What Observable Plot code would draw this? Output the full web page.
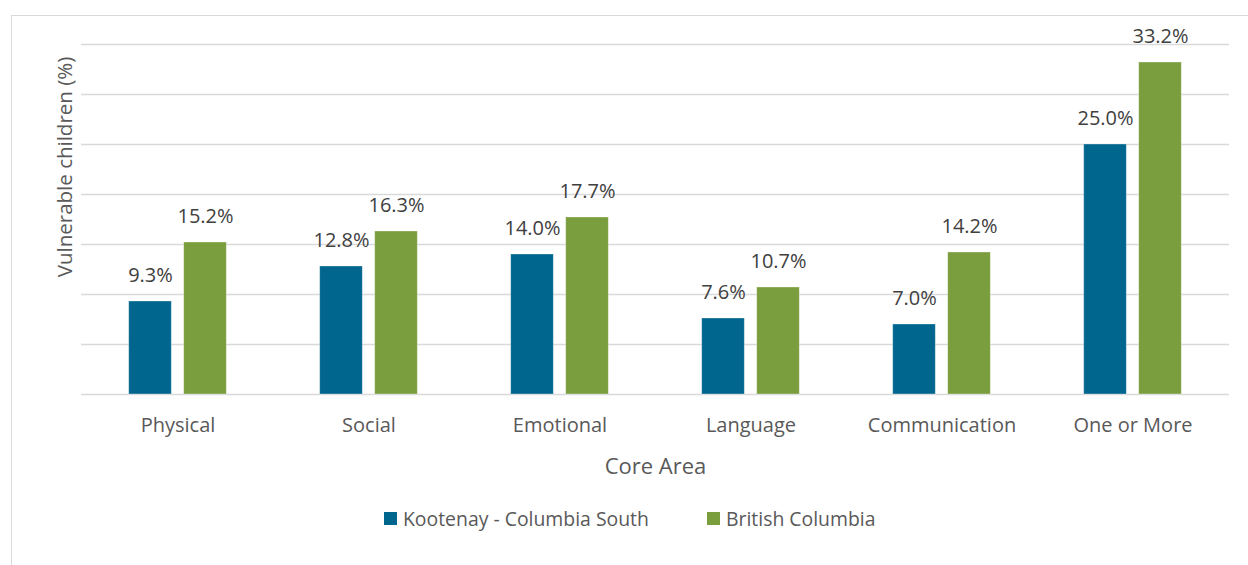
<!DOCTYPE html>
<html><head><meta charset="utf-8">
<script src="https://cdn.jsdelivr.net/npm/d3@7"></script>
<script src="https://cdn.jsdelivr.net/npm/@observablehq/plot@0.6"></script>
<style>
html,body{margin:0;padding:0;background:#fff;}
body{font-family:"Open Sans",sans-serif;}
#wrap{position:relative;width:1248px;height:565px;overflow:hidden;}
#frame{position:absolute;left:11px;top:15px;width:1300px;height:600px;border:1px solid #d9d9d9;box-sizing:border-box;}
#chart{position:absolute;left:0;top:0;}
.leg{position:absolute;top:505px;display:flex;align-items:center;font-size:19.4px;color:#595959;white-space:nowrap;}
.sw{width:13px;height:13px;margin-right:6px;}
#ylab{position:absolute;left:64px;top:167px;transform:translate(-50%,-50%) rotate(-90deg);font-size:20.5px;color:#595959;white-space:nowrap;}
</style></head>
<body>
<div id="wrap"><div id="frame"></div><div id="chart"></div><div id="ylab"></div></div>
<script>
const categories = ["Physical","Social","Emotional","Language","Communication","One or More"];
const kootenay = [9.3,12.8,14.0,7.6,7.0,25.0];
const britishColumbia = [15.2,16.3,17.7,10.7,14.2,33.2];
const seriesNames = ["Kootenay - Columbia South","British Columbia"];
const seriesColors = ["#00668e","#7a9e3d"];
const yTicks = [0,5,10,15,20,25,30,35];
const xTitle = "Core Area";
const yTitle = "Vulnerable children (%)";

const series = [kootenay, britishColumbia].map((vals, s) =>
  categories.map((c, i) => ({category: c, value: vals[i], series: seriesNames[s]})));

const offsets = [-27.5, 27.5];
const inset = 74.2;

const marks = [
  Plot.ruleY(yTicks, {stroke:"#d9d9d9", strokeWidth:1.4})
];
series.forEach((rows, s) => {
  marks.push(Plot.barY(rows, {x:"category", y:"value", fill:seriesColors[s], stroke:"#ffffff", strokeOpacity:0.4, strokeWidth:0.8, dx:offsets[s], insetLeft:inset, insetRight:inset}));
  marks.push(Plot.text(rows, {x:"category", y:"value", text:d => d.value.toFixed(1) + "%", dx:offsets[s], dy:-26, fontSize:20, fill:"#404040"}));
});
marks.push(Plot.axisX({tickSize:0, tickPadding:23, fontSize:20, fill:"#595959", label:null}));
marks.push(Plot.text([xTitle], {frameAnchor:"bottom", dy:79, fontSize:22, fill:"#595959"}));

const chart = Plot.plot({
  width:1248, height:565,
  marginLeft:81, marginRight:19, marginTop:44, marginBottom:171,
  style:{fontFamily:"'Open Sans', sans-serif", background:"transparent", overflow:"visible"},
  x:{domain:categories, padding:0, axis:null},
  y:{domain:[0,35], axis:null},
  marks
});
document.getElementById("chart").appendChild(chart);
document.getElementById("ylab").textContent = yTitle;

const legendX = [384, 707];
seriesNames.forEach((name, s) => {
  const item = document.createElement("div");
  item.className = "leg";
  item.style.left = legendX[s] + "px";
  const sw = document.createElement("div");
  sw.className = "sw";
  sw.style.background = seriesColors[s];
  const t = document.createElement("span");
  t.textContent = name;
  item.appendChild(sw); item.appendChild(t);
  document.getElementById("wrap").appendChild(item);
});
</script>
</body></html>
